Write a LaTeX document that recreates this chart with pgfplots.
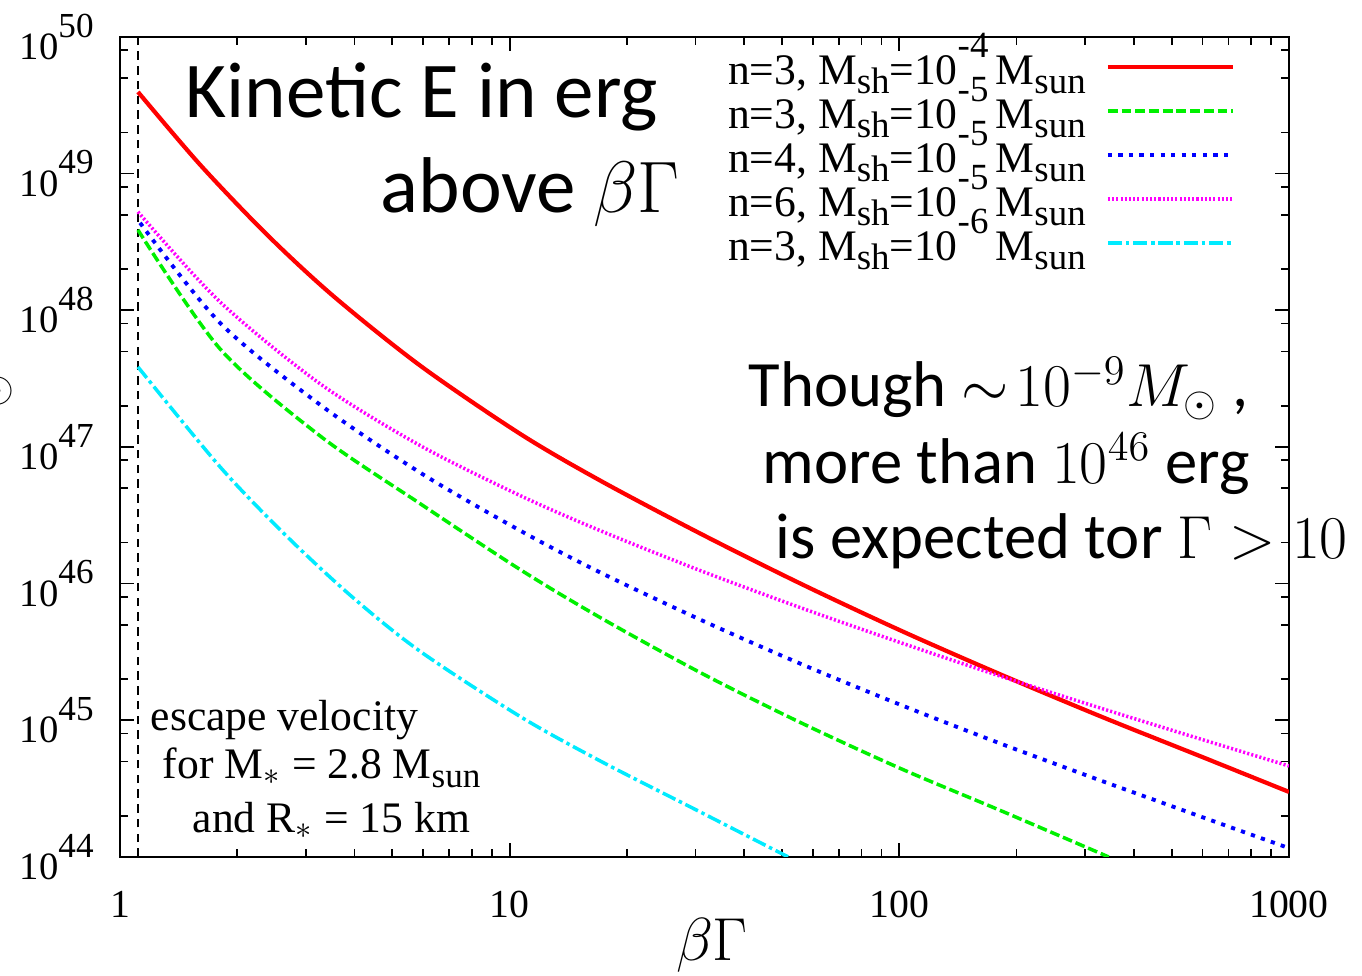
\documentclass[border=0pt]{standalone}
\usepackage{fontspec}
\setmainfont{Liberation Serif}
\newfontfamily\calibri{Carlito}
\usepackage{graphicx}
\usepackage{pgfplots}
\pgfplotsset{compat=1.18}

\definecolor{gpred}{RGB}{255,0,0}
\definecolor{gpgreen}{RGB}{0,240,0}
\definecolor{gpblue}{RGB}{0,0,255}
\definecolor{gpmagenta}{RGB}{255,0,255}
\definecolor{gpcyan}{RGB}{0,235,255}

% lowered / raised pieces in the gnuplot-like labels
\newcommand{\lo}[2]{\raisebox{-0.45ex}{\fontsize{#1}{#1}\selectfont #2}}
\newcommand{\hi}[2]{\raisebox{0.64em}{\fontsize{#1}{#1}\selectfont #2}}
\newcommand{\tenpow}[1]{10\raisebox{0.58em}{\fontsize{10}{10}\selectfont #1}}
\newcommand{\leg}[3]{n=#1, M\lo{10.5}{sh}=10\hi{10.5}{#2}\,M\lo{10.5}{#3}}

\begin{document}
\begin{tikzpicture}[x=1cm,y=1cm]
\useasboundingbox (0,0) rectangle (13.62,9.75);
\begin{axis}[
  at={(1.20cm,1.18cm)}, anchor=south west,
  scale only axis, width=11.69cm, height=8.20cm,
  xmode=log, ymode=log,
  xmin=1, xmax=1000, ymin=1e44, ymax=1e50,
  xtick={1,10,100,1000}, xticklabels={1,10,100,1000},
  ytick={1e44,1e45,1e46,1e47,1e48,1e49,1e50},
  yticklabels={\tenpow{44},\tenpow{45},\tenpow{46},\tenpow{47},\tenpow{48},\tenpow{49},\tenpow{50}},
  minor xtick={2,3,4,5,6,7,8,9,20,30,40,50,60,70,80,90,200,300,400,500,600,700,800,900},
  minor ytick={2e44,5e44,8e44,2e45,5e45,8e45,2e46,5e46,8e46,2e47,5e47,8e47,2e48,5e48,8e48,2e49,5e49,8e49},
  tick align=inside,
  major tick length=1.4mm, minor tick length=0.8mm,
  axis line style={line width=0.6pt},
  every tick/.style={black, line width=0.5pt},
  xticklabel style={font=\fontsize{11.3}{11.3}\selectfont, anchor=north, yshift=-2.2mm},
  yticklabel style={font=\fontsize{11}{11}\selectfont, anchor=east, xshift=-1.4mm},
  legend style={draw=none, fill=none, inner sep=0pt, outer sep=0pt,
    at={(0.9538,0.9744)}, anchor=north east,
    font=\fontsize{12.4}{12.4}\selectfont,
    nodes={inner sep=0pt, text height=2.7mm, text depth=1.7mm},
    row sep=0pt, column sep=2mm},
  legend cell align=right,
  legend plot pos=right,
  legend image code/.code={\draw[#1] (0cm,1.3mm) -- (1.25cm,1.3mm);},
  clip=true,
]
% escape velocity of the compact star
\addplot[black, line width=0.6pt, dash pattern=on 2.4pt off 1.8pt, forget plot]
  coordinates {(1.11,1e44) (1.11,1e50)};

% n=3, M_sh = 1e-4
\addplot[gpred, line width=1.2pt, smooth] coordinates {
 (1.112,3.96e49) (1.606,1.16e49) (2.387,3.56e48) (3.528,1.27e48) (5.905,3.92e47)
 (10.67,1.24e47) (17.14,5.64e46) (30.97,2.31e46) (55.98,9.95e45) (101.2,4.51e45)
 (182.9,2.15e45) (330.6,1.06e45) (597.5,5.40e44) (1000,2.99e44)};
\addlegendentry{\leg{3}{-4}{sun}}

% n=3, M_sh = 1e-5
\addplot[gpgreen, line width=1pt, dash pattern=on 2.8pt off 1.1pt, smooth] coordinates {
 (1.112,3.87e48) (1.807,5.21e47) (3.267,1.20e47) (5.905,3.83e46) (10.67,1.26e46)
 (17.14,5.61e45) (30.97,2.22e45) (55.98,9.57e44) (101.2,4.41e44) (182.9,2.17e44)
 (344.6,1.0e44)};
\addlegendentry{\leg{3}{-5}{sun}}

% n=4, M_sh = 1e-5
\addplot[gpblue, line width=1.1pt, dash pattern=on 1.2pt off 1.8pt, smooth] coordinates {
 (1.126,4.36e48) (1.807,8.07e47) (3.267,2.03e47) (5.905,6.46e46) (10.67,2.43e46)
 (17.14,1.20e46) (30.97,5.42e45) (55.98,2.58e45) (101.2,1.29e45) (182.9,6.71e44)
 (330.6,3.60e44) (597.5,1.96e44) (1000,1.16e44)};
\addlegendentry{\leg{4}{-5}{sun}}

% n=6, M_sh = 1e-5
\addplot[gpmagenta, line width=1pt, dash pattern=on 0.6pt off 0.6pt, smooth] coordinates {
 (1.112,5.25e48) (1.807,1.15e48) (3.267,2.89e47) (5.905,1.02e47) (10.67,4.39e46)
 (17.14,2.43e46) (30.97,1.24e46) (55.98,6.64e45) (101.2,3.68e45) (182.9,2.09e45)
 (330.6,1.22e45) (597.5,7.24e44) (1000,4.63e44)};
\addlegendentry{\leg{6}{-5}{sun}}

% n=3, M_sh = 1e-6
\addplot[gpcyan, line width=1pt, dash pattern=on 4pt off 1.1pt on 1pt off 1.1pt, smooth] coordinates {
 (1.112,3.85e47) (1.807,7.14e46) (2.687,2.20e46) (3.972,7.85e45) (5.905,3.18e45)
 (10.67,1.06e45) (17.14,5.01e44) (30.97,2.12e44) (51.85,1.0e44)};
\addlegendentry{\leg{3}{-6}{sun}}
\end{axis}

% axis title and annotations
\node[anchor=base, font=\fontsize{19}{19}\selectfont] at (7.12,0.15) {$\beta\Gamma$};
\node[anchor=center, rotate=90, font=\fontsize{13}{13}\selectfont] at (-0.02,5.84) {$\odot$};

\begin{scope}[every node/.style={anchor=base west, inner sep=0pt, font=\fontsize{12.4}{12.4}\selectfont}]
\node at (1.50,2.45) {escape velocity};
\node at (1.62,1.97) {for M$_{\ast}$ = 2.8 M\lo{10}{sun}};
\node at (1.92,1.43) {and R$_{\ast}$ = 15 km};
\end{scope}

\begin{scope}[every node/.style={anchor=base west, inner sep=0pt, font=\calibri\fontsize{22.5}{22.5}\selectfont}]
\node at (1.85,8.57) {Kinetic E in erg};
\node at (3.80,7.62) {above $\beta\Gamma$};
\end{scope}

\begin{scope}[every node/.style={anchor=base west, inner sep=0pt, font=\calibri\fontsize{18.4}{18.4}\selectfont}]
\node at (7.48,5.68) {Though $\sim\!10^{-9}M_{\odot}$ ,};
\node at (7.62,4.92) {more than $10^{46}$ erg};
\node at (7.75,4.17) {is expected tor $\Gamma>10$};
\end{scope}
\end{tikzpicture}
\end{document}
